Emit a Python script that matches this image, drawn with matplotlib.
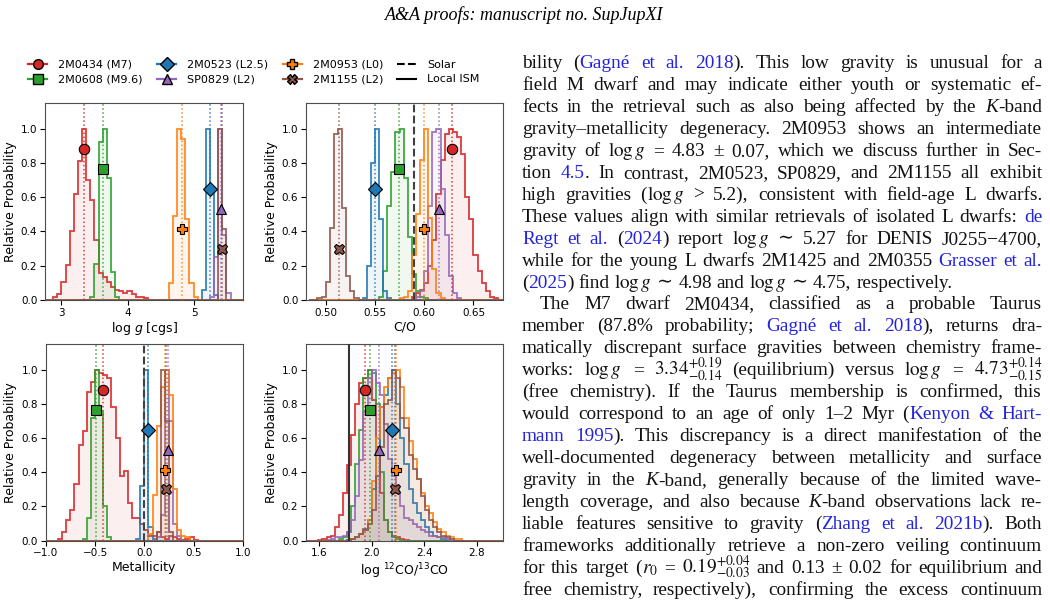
import numpy as np
import matplotlib
matplotlib.use('Agg')
import matplotlib.pyplot as plt
from matplotlib.lines import Line2D

# objets (ordre de la légende)
names = ['2M0434 (M7)', '2M0608 (M9.6)', '2M0523 (L2.5)', 'SP0829 (L2)', '2M0953 (L0)', '2M1155 (L2)']
colors = ['#d62728', '#2ca02c', '#1f77b4', '#9467bd', '#ff7f0e', '#8c564b']
markers = ['o', 's', 'D', '^', 'P', 'X']
marker_y = [0.88, 0.764, 0.648, 0.532, 0.416, 0.30]

# log g : bins, premier bin non nul, hauteurs, médianes
logg_bins = (2.76, 5.73, 48)
logg_start = [2, 11, 38, 40, 30, 42]
logg_heights = [
    [0.02, 0.035, 0.107, 0.205, 0.40, 0.62, 0.81, 1.0, 0.70, 0.585, 0.35, 0.156, 0.136,
     0.107, 0.078, 0.058, 0.05, 0.043, 0.05, 0.035, 0.02, 0.015, 0.01],
    [0.02, 0.21, 0.92, 1.0, 0.71, 0.165, 0.015],
    [0.06, 1.0, 0.65, 0.03],
    [0.02, 0.25, 1.0, 0.38, 0.04],
    [0.10, 0.49, 1.0, 0.94, 0.47, 0.10, 0.015],
    [1.0, 0.415],
]
logg_med = [3.35, 3.63, 5.234, 5.40, 4.82, 5.41]

# C/O
co_bins = (0.4833, 0.6833, 48)
co_start = [25, 17, 13, 26, 22, 2]
co_heights = [
    [0.02, 0.04, 0.06, 0.1, 0.2, 0.35, 0.62, 0.82, 0.97, 1.0, 0.98, 0.95, 0.85, 0.6,
     0.47, 0.26, 0.17, 0.1, 0.05, 0.02, 0.01],
    [0.02, 0.17, 0.55, 0.75, 0.98, 1.0, 0.71, 0.37, 0.15, 0.05, 0.02, 0.01],
    [0.01, 0.2, 0.8, 1.0, 0.47, 0.05, 0.01],
    [0.02, 0.05, 0.17, 0.55, 0.98, 1.0, 0.65, 0.38, 0.14, 0.04, 0.01],
    [0.01, 0.02, 0.05, 0.26, 0.5, 0.82, 1.0, 0.48, 0.18, 0.04, 0.01],
    [0.01, 0.02, 0.107, 0.42, 0.97, 1.0, 0.536, 0.142, 0.05, 0.01],
]
co_med = [0.628, 0.5745, 0.5503, 0.6147, 0.5997, 0.513]
co_solar = 0.59

# métallicité
met_bins = (-1.0, 1.0, 48)
met_start = [3, 9, 22, 27, 25, 27]
met_heights = [
    [0.01, 0.05, 0.12, 0.18, 0.33, 0.56, 0.64, 0.87, 0.93, 1.0, 0.98, 0.97, 0.95, 0.78,
     0.6, 0.38, 0.41, 0.22, 0.13, 0.13, 0.1, 0.06, 0.03, 0.03, 0.05, 0.02, 0.01, 0.03,
     0.02, 0.01, 0.005, 0.01, 0.02, 0.005],
    [0.01, 0.13, 0.72, 1.0, 0.75, 0.2, 0.02],
    [0.01, 0.32, 1.0, 0.08, 0.01],
    [0.02, 0.15, 1.0, 0.7, 0.1, 0.03],
    [0.04, 0.27, 0.67, 0.9, 1.0, 0.85, 0.3, 0.06, 0.03, 0.02],
    [0.05, 1.0, 0.7, 0.05],
]
met_med = [-0.417, -0.49, 0.034, 0.237, 0.206, 0.215]
met_solar = 0.0

# log 12CO/13CO
iso_bins = (1.5, 3.0, 48)
iso_start = [3, 8, 10, 5, 11, 10]
iso_heights = [
    [0.005, 0.01, 0.02, 0.03, 0.08, 0.15, 0.28, 0.44, 0.62, 0.8, 0.92, 0.95, 1.0, 0.82,
     0.55, 0.28, 0.12, 0.05, 0.03, 0.02, 0.01, 0.005],
    [0.01, 0.02, 0.05, 0.2, 0.45, 0.65, 0.95, 1.0, 0.98, 0.8, 0.4, 0.12, 0.05, 0.02, 0.01],
    [0.005, 0.01, 0.02, 0.04, 0.07, 0.12, 0.3, 0.55, 0.78, 0.85, 0.95, 1.0, 0.8, 0.6,
     0.45, 0.3, 0.22, 0.16, 0.12, 0.08, 0.05, 0.03, 0.02, 0.01],
    [0.005, 0.01, 0.02, 0.02, 0.03, 0.05, 0.12, 0.26, 0.47, 0.75, 0.95, 1.0, 0.92, 0.85,
     0.68, 0.48, 0.38, 0.28, 0.2, 0.13, 0.12, 0.1, 0.08, 0.06, 0.05, 0.03, 0.03, 0.02,
     0.02, 0.01],
    [0.01, 0.02, 0.04, 0.06, 0.12, 0.35, 0.6, 0.78, 0.9, 0.95, 0.98, 1.0, 0.9, 0.72,
     0.58, 0.48, 0.36, 0.28, 0.2, 0.16, 0.11, 0.07, 0.05, 0.03, 0.02, 0.01, 0.01],
    [0.005, 0.01, 0.02, 0.04, 0.06, 0.1, 0.18, 0.38, 0.55, 0.8, 0.82, 1.0, 0.95, 0.72,
     0.66, 0.5, 0.42, 0.36, 0.26, 0.18, 0.12, 0.08, 0.05, 0.03, 0.02, 0.01],
]
iso_med = [1.953, 1.99, 2.156, 2.054, 2.186, 2.181]
iso_ism = 1.83

header = 'A&A proofs: manuscript no. SupJupXI'

# texte de l'article : [..] = lien bleu, {..} = italique, $..$ = maths
para_lines = [
    'bility ([Gagné et al. 2018]). This low gravity is unusual for a',
    'field M dwarf and may indicate either youth or systematic ef-',
    'fects in the retrieval such as also being affected by the {K}-band',
    'gravity–metallicity degeneracy. 2M0953 shows an intermediate',
    'gravity of $\\log g$ = 4.83 ± 0.07, which we discuss further in Sec-',
    'tion [4.5]. In contrast, 2M0523, SP0829, and 2M1155 all exhibit',
    'high gravities ($\\log g$ > 5.2), consistent with field-age L dwarfs.',
    'These values align with similar retrievals of isolated L dwarfs: [de]',
    '[Regt et al.] ([2024]) report $\\log g$ ∼ 5.27 for DENIS J0255−4700,',
    'while for the young L dwarfs 2M1425 and 2M0355 [Grasser et al.]',
    '([2025]) find $\\log g$ ∼ 4.98 and $\\log g$ ∼ 4.75, respectively.',
    'The M7 dwarf 2M0434, classified as a probable Taurus',
    'member (87.8% probability; [Gagné et al. 2018]), returns dra-',
    'matically discrepant surface gravities between chemistry frame-',
    'works: $\\log g$ = $3.34^{+0.19}_{-0.14}$ (equilibrium) versus $\\log g$ = $4.73^{+0.14}_{-0.15}$',
    '(free chemistry). If the Taurus membership is confirmed, this',
    'would correspond to an age of only 1–2 Myr ([Kenyon & Hart-]',
    '[mann 1995]). This discrepancy is a direct manifestation of the',
    'well-documented degeneracy between metallicity and surface',
    'gravity in the {K}-band, generally because of the limited wave-',
    'length coverage, and also because {K}-band observations lack re-',
    'liable features sensitive to gravity ([Zhang et al. 2021b]). Both',
    'frameworks additionally retrieve a non-zero veiling continuum',
    'for this target ($r_0$ = $0.19^{+0.04}_{-0.03}$ and 0.13 ± 0.02 for equilibrium and',
    'free chemistry, respectively), confirming the excess continuum',
]
para_last = [10]      # dernière ligne de paragraphe (non justifiée)
para_indent = [11]    # première ligne de paragraphe (alinéa)

W, H = 1050, 604
fig = plt.figure(figsize=(W / 100, H / 100), dpi=100)


def fx(x):
    return x / W


def fy(y):
    return 1 - y / H


def panel(rect, bins, starts, heights, meds, xlim, xticks, xlabel):
    ax = fig.add_axes([fx(rect[0]), fy(rect[3]), (rect[2] - rect[0]) / W, (rect[3] - rect[1]) / H])
    edges = np.linspace(bins[0], bins[1], bins[2] + 1)
    for i in range(6):
        vals = np.zeros(bins[2])
        vals[starts[i]:starts[i] + len(heights[i])] = heights[i]
        ax.stairs(vals, edges, fill=True, color=colors[i], alpha=0.07, lw=0)
        ax.stairs(vals, edges, color=colors[i], lw=1.3, alpha=0.9)
        ax.axvline(meds[i], color=colors[i], ls=':', lw=1.1, alpha=0.9)
        ax.plot(meds[i], marker_y[i], marker=markers[i], color=colors[i], mec='k',
                ms=7.5, mew=0.8, zorder=6)
    ax.set_xlim(*xlim)
    ax.set_ylim(0, 1.15)
    ax.set_xticks(xticks)
    ax.set_yticks(np.arange(0, 1.01, 0.2))
    ax.set_xlabel(xlabel, fontsize=9, labelpad=2)
    ax.set_ylabel('Relative Probability', fontsize=9, labelpad=3)
    ax.tick_params(labelsize=7.5, length=3.5, width=0.8, pad=2)
    for s in ax.spines.values():
        s.set_color('0.3')
    return ax


ax1 = panel((45, 103, 243, 300), logg_bins, logg_start, logg_heights, logg_med,
            (2.76, 5.73), [3, 4, 5], 'log $g$ [cgs]')
ax2 = panel((306, 103, 503, 300), co_bins, co_start, co_heights, co_med,
            (0.48, 0.68), [0.50, 0.55, 0.60, 0.65], 'C/O')
ax2.axvline(co_solar, color='0.25', ls='--', lw=1.5, zorder=5)
ax3 = panel((45.7, 344, 243, 540.7), met_bins, met_start, met_heights, met_med,
            (-1.0, 1.0), [-1.0, -0.5, 0.0, 0.5, 1.0], 'Metallicity')
ax3.axvline(met_solar, color='0.25', ls='--', lw=1.5, zorder=5)
ax4 = panel((306, 344, 503, 540.7), iso_bins, iso_start, iso_heights, iso_med,
            (1.5, 3.0), [1.6, 2.0, 2.4, 2.8], 'log $^{12}$CO/$^{13}$CO')
ax4.axvline(iso_ism, color='0.2', ls='-', lw=1.5, zorder=5)

handles = [Line2D([], [], color=c, marker=m, mfc=c, mec='k', ms=7, lw=1.6)
           for c, m in zip(colors, markers)]
handles += [Line2D([], [], color='k', ls='--', lw=1.5), Line2D([], [], color='k', lw=1.5)]
fig.legend(handles, names + ['Solar', 'Local ISM'], ncol=4, loc='center',
           bbox_to_anchor=(fx(254), fy(72)), frameon=False, fontsize=8,
           handlelength=1.7, handletextpad=1.0, columnspacing=1.3, labelspacing=0.45)

# en-tête
fig.text(fx(524), fy(15), header, ha='center', va='center', fontsize=13,
         family='Liberation Serif', style='italic')

# colonne de texte justifiée
TXT = 13.9
LINK = '#2222dd'
SERIF = ['Liberation Serif', 'DejaVu Serif']
x_left, x_right = 522, 1042
y_first, dy = 68, 21.95
renderer = fig.canvas.get_renderer()


def parse(line):
    words, runs, buf = [], [], ''
    blue = ital = False
    i = 0
    while i < len(line):
        c = line[i]
        if c == '$':
            j = line.index('$', i + 1)
            if buf:
                runs.append((buf, blue, ital))
                buf = ''
            runs.append((line[i:j + 1], blue, ital))
            i = j + 1
            continue
        if c in '[]{}':
            if buf:
                runs.append((buf, blue, ital))
                buf = ''
            if c == '[':
                blue = True
            elif c == ']':
                blue = False
            elif c == '{':
                ital = True
            else:
                ital = False
        elif c == ' ':
            if buf:
                runs.append((buf, blue, ital))
                buf = ''
            if runs:
                words.append(runs)
                runs = []
        else:
            buf += c
        i += 1
    if buf:
        runs.append((buf, blue, ital))
    if runs:
        words.append(runs)
    return words


def measure(size):
    rows = []
    for line in para_lines:
        items = []
        for w in parse(line):
            objs = []
            for s, blue, ital in w:
                t = fig.text(0, 0, s, fontsize=size, family=SERIF,
                             style='italic' if ital else 'normal',
                             color=LINK if blue else '#111111', va='baseline', ha='left',
                             math_fontfamily='stix')
                objs.append((t, t.get_window_extent(renderer).width))
            items.append(objs)
        rows.append(items)
    return rows


def clear(rows):
    for items in rows:
        for objs in items:
            for t, _ in objs:
                t.remove()


# on réduit la taille si une ligne justifiée ne tient pas (espace mini 0.17 em)
rows = measure(TXT)
worst = 1.0
for n, items in enumerate(rows):
    if n in para_last:
        continue
    x0 = x_left + (18 if n in para_indent else 0)
    wsum = sum(wd for objs in items for _, wd in objs)
    need = wsum + (len(items) - 1) * 0.17 * TXT * 100 / 72
    worst = min(worst, (x_right - x0) / need)
if worst < 1.0:
    clear(rows)
    TXT *= worst
    rows = measure(TXT)

space = 0.25 * TXT * 100 / 72
for n, items in enumerate(rows):
    y = y_first + n * dy
    x0 = x_left + (18 if n in para_indent else 0)
    total = sum(wd for objs in items for _, wd in objs)
    if n in para_last or len(items) < 2:
        gap = space
    else:
        gap = (x_right - x0 - total) / (len(items) - 1)
    x = x0
    for objs in items:
        for t, wd in objs:
            t.set_position((fx(x), fy(y)))
            x += wd
        x += gap

fig.savefig('out.png', dpi=100)
